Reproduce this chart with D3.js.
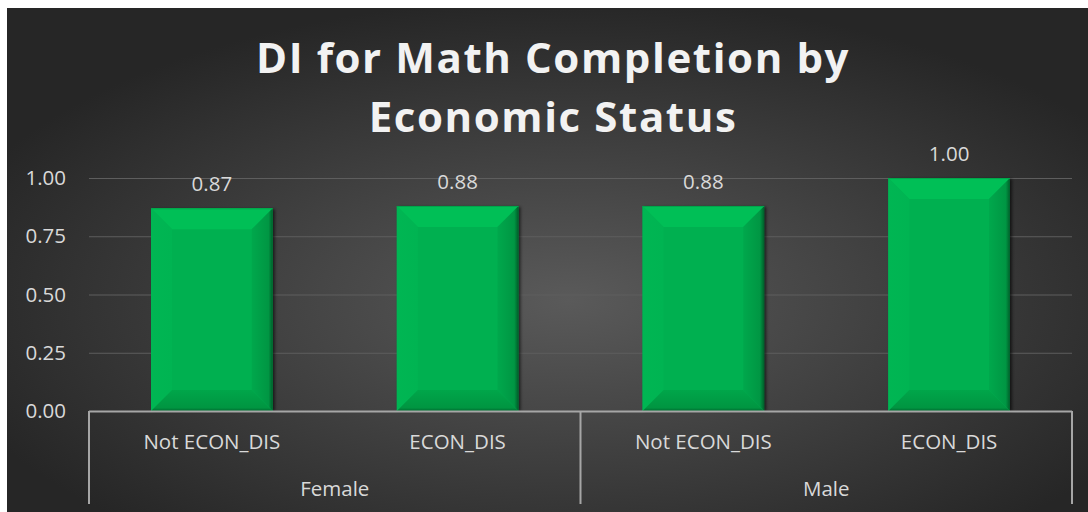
<!DOCTYPE html>
<html>
<head>
<meta charset="utf-8">
<script src="https://cdn.jsdelivr.net/npm/d3@7"></script>
<style>
  html, body { margin: 0; padding: 0; background: #ffffff; }
  svg { display: block; }
  text { font-family: "Open Sans", "DejaVu Sans", sans-serif; }
</style>
</head>
<body>
<svg id="chart"></svg>
<script>
// data ----------------------------------------
var groups = ["Female", "Male"];
var categories = ["Not ECON_DIS", "ECON_DIS", "Not ECON_DIS", "ECON_DIS"];
var categoryGroup = ["Female", "Female", "Male", "Male"];
var values = [0.87, 0.88, 0.88, 1.00];
var yTicks = [0, 0.25, 0.5, 0.75, 1.0];
var titleLines = ["DI for Math Completion by", "Economic Status"];

var width = 1088;
var height = 512;

var svg = d3.select("#chart")
  .attr("width", width)
  .attr("height", height);

var defs = svg.append("defs");

// background gradient
var bg = defs.append("radialGradient")
  .attr("id", "bgGrad")
  .attr("cx", "52%").attr("cy", "58%")
  .attr("r", "60%")
  .attr("gradientUnits", "objectBoundingBox");
bg.append("stop").attr("offset", "0%").attr("stop-color", "#5a5a5a");
bg.append("stop").attr("offset", "100%").attr("stop-color", "#262626");

// bevel gradients
var leftG = defs.append("linearGradient").attr("id", "leftG")
  .attr("x1", "0%").attr("x2", "100%").attr("y1", "0%").attr("y2", "0%");
leftG.append("stop").attr("offset", "0%").attr("stop-color", "#00b653");
leftG.append("stop").attr("offset", "100%").attr("stop-color", "#00b452");

var rightG = defs.append("linearGradient").attr("id", "rightG")
  .attr("x1", "0%").attr("x2", "100%").attr("y1", "0%").attr("y2", "0%");
rightG.append("stop").attr("offset", "0%").attr("stop-color", "#00a84c");
rightG.append("stop").attr("offset", "80%").attr("stop-color", "#009643");
rightG.append("stop").attr("offset", "100%").attr("stop-color", "#005e2a");

var bottomG = defs.append("linearGradient").attr("id", "bottomG")
  .attr("x1", "0%").attr("x2", "0%").attr("y1", "0%").attr("y2", "100%");
bottomG.append("stop").attr("offset", "0%").attr("stop-color", "#00a64a");
bottomG.append("stop").attr("offset", "85%").attr("stop-color", "#009541");
bottomG.append("stop").attr("offset", "100%").attr("stop-color", "#006a2f");

var shadow = defs.append("filter").attr("id", "shadow")
  .attr("x", "-10%").attr("y", "-10%").attr("width", "130%").attr("height", "120%");
shadow.append("feGaussianBlur").attr("stdDeviation", 1.5);

// chart background ----------------------------------------
svg.append("rect")
  .attr("x", 7).attr("y", 8)
  .attr("width", width - 7).attr("height", height - 8)
  .attr("fill", "url(#bgGrad)");

// scales ----------------------------------------
var plotLeft = 89, plotRight = 1072;
var plotTop = 178, plotBottom = 411;

var x = d3.scaleBand()
  .domain(d3.range(categories.length))
  .range([plotLeft, plotRight])
  .paddingInner(0.505)
  .paddingOuter(0.2525);

var y = d3.scaleLinear()
  .domain([0, 1])
  .range([plotBottom, plotTop]);

// gridlines
svg.append("g")
  .attr("class", "grid")
  .attr("transform", "translate(" + plotLeft + ",0)")
  .call(d3.axisLeft(y).tickValues(yTicks.slice(1)).tickSize(-(plotRight - plotLeft)).tickFormat(""))
  .call(function(g) { g.select(".domain").remove(); })
  .selectAll("line")
  .attr("stroke", "#5e5e5e")
  .attr("stroke-width", 1.2);

// y axis labels
svg.append("g")
  .attr("class", "y-axis")
  .attr("transform", "translate(66,0)")
  .call(d3.axisLeft(y).tickValues(yTicks).tickSize(0).tickPadding(0).tickFormat(d3.format(".2f")))
  .call(function(g) { g.select(".domain").remove(); })
  .selectAll("text")
  .attr("fill", "#d9d9d9")
  .style("font-size", "20.5px")
  .style("font-family", "'Open Sans', sans-serif");

// bars ----------------------------------------
var bars = svg.append("g").attr("class", "bars")
  .selectAll("g")
  .data(values)
  .enter().append("g");

function pts(arr) { return arr.map(function(p) { return p.join(","); }).join(" "); }

bars.each(function(d, i) {
  var g = d3.select(this);
  var x0 = x(i), w = x.bandwidth();
  var y0 = y(d), h = y(0) - y(d);
  var b = Math.min(21, w / 2, h / 2);

  // shadow
  g.append("rect")
    .attr("x", x0 + 2).attr("y", y0 + 1)
    .attr("width", w).attr("height", h - 1)
    .attr("fill", "#000").attr("opacity", 0.6)
    .attr("filter", "url(#shadow)");

  g.append("rect")
    .attr("x", x0).attr("y", y0)
    .attr("width", w).attr("height", h)
    .attr("fill", "#00b050");

  g.append("polygon") // top
    .attr("points", pts([[x0, y0], [x0 + w, y0], [x0 + w - b, y0 + b], [x0 + b, y0 + b]]))
    .attr("fill", "#00bf56");
  g.append("polygon") // left
    .attr("points", pts([[x0, y0], [x0 + b, y0 + b], [x0 + b, y0 + h - b], [x0, y0 + h]]))
    .attr("fill", "url(#leftG)");
  g.append("polygon") // right
    .attr("points", pts([[x0 + w, y0], [x0 + w, y0 + h], [x0 + w - b, y0 + h - b], [x0 + w - b, y0 + b]]))
    .attr("fill", "url(#rightG)");
  g.append("polygon") // bottom
    .attr("points", pts([[x0, y0 + h], [x0 + b, y0 + h - b], [x0 + w - b, y0 + h - b], [x0 + w, y0 + h]]))
    .attr("fill", "url(#bottomG)");
  g.append("line") // top edge
    .attr("x1", x0).attr("x2", x0 + w)
    .attr("y1", y0 + 0.5).attr("y2", y0 + 0.5)
    .attr("stroke", "#00a64b").attr("stroke-width", 1);
});

// data labels
svg.append("g").attr("class", "labels")
  .selectAll("text")
  .data(values)
  .enter().append("text")
  .attr("x", function(d, i) { return x(i) + x.bandwidth() / 2; })
  .attr("y", function(d) { return y(d) - 17; })
  .attr("text-anchor", "middle")
  .attr("fill", "#d9d9d9")
  .style("font-size", "20.5px")
  .text(function(d) { return d3.format(".2f")(d); });

// category axis ----------------------------------------
var axisG = svg.append("g").attr("class", "x-axis");
var axisColor = "#a6a6a6";
var axisBottom = 504;

axisG.append("line")
  .attr("x1", plotLeft).attr("x2", plotRight)
  .attr("y1", plotBottom + 0.5).attr("y2", plotBottom + 0.5)
  .attr("stroke", axisColor).attr("stroke-width", 2);

// group boundaries
var groupBounds = groups.map(function(gname) {
  var idx = d3.range(categories.length).filter(function(i) { return categoryGroup[i] === gname; });
  var gap = (x.step() - x.bandwidth()) / 2;
  return {
    name: gname,
    x0: x(idx[0]) - gap,
    x1: x(idx[idx.length - 1]) + x.bandwidth() + gap
  };
});
var dividers = [plotLeft].concat(groupBounds.map(function(g) { return g.x1; }));
dividers[dividers.length - 1] = plotRight;

axisG.selectAll(".divider")
  .data(dividers)
  .enter().append("line")
  .attr("class", "divider")
  .attr("x1", function(d) { return d; }).attr("x2", function(d) { return d; })
  .attr("y1", plotBottom).attr("y2", axisBottom)
  .attr("stroke", axisColor).attr("stroke-width", 2);

axisG.selectAll(".cat")
  .data(categories)
  .enter().append("text")
  .attr("class", "cat")
  .attr("x", function(d, i) { return x(i) + x.bandwidth() / 2; })
  .attr("y", 449)
  .attr("text-anchor", "middle")
  .attr("fill", "#d9d9d9")
  .style("font-size", "20.5px")
  .text(function(d) { return d; });

axisG.selectAll(".grp")
  .data(groupBounds)
  .enter().append("text")
  .attr("class", "grp")
  .attr("x", function(d) { return (d.x0 + d.x1) / 2; })
  .attr("y", 496)
  .attr("text-anchor", "middle")
  .attr("fill", "#d9d9d9")
  .style("font-size", "20.5px")
  .text(function(d) { return d.name; });

// title ----------------------------------------
svg.append("g").attr("class", "title")
  .selectAll("text")
  .data(titleLines)
  .enter().append("text")
  .attr("x", 553)
  .attr("y", function(d, i) { return 73 + i * 59; })
  .attr("text-anchor", "middle")
  .attr("fill", "#f2f2f2")
  .style("font-size", "42px")
  .style("font-weight", "bold")
  .style("letter-spacing", "1.6px")
  .text(function(d) { return d; });
</script>
</body>
</html>
